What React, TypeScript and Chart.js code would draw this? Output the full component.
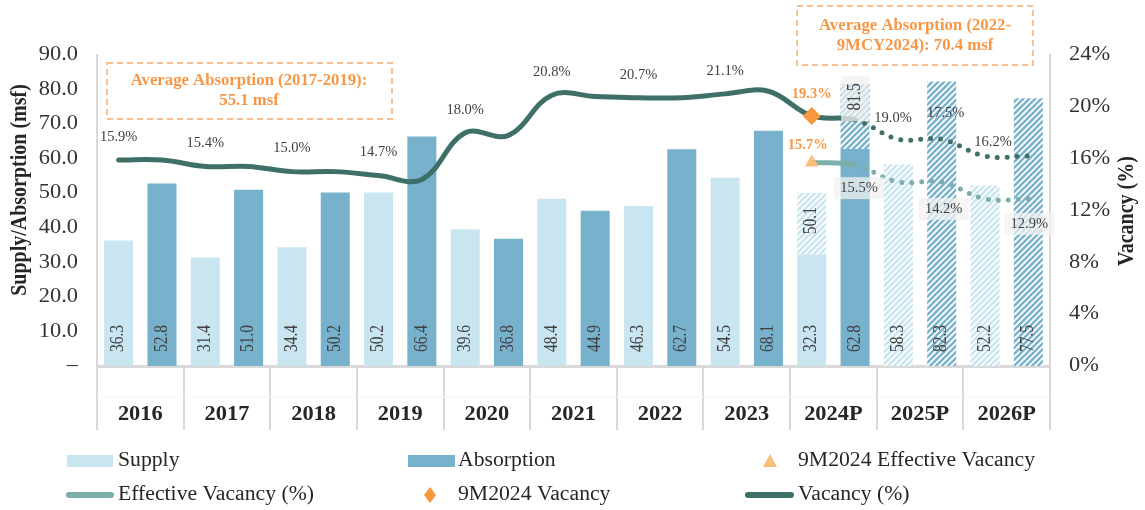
import React, { useEffect, useRef } from 'react';
import { Chart, registerables } from 'chart.js';

Chart.register(...registerables);

// ---------------- DATA ----------------
const categories = ['2016', '2017', '2018', '2019', '2020', '2021', '2022', '2023', '2024P', '2025P', '2026P'];
const supplyActual: (number | null)[] = [36.3, 31.4, 34.4, 50.2, 39.6, 48.4, 46.3, 54.5, 32.3, null, null];
const supplyProjectedTotal: (number | null)[] = [null, null, null, null, null, null, null, null, 50.1, 58.3, 52.2];
const absorptionActual: (number | null)[] = [52.8, 51.0, 50.2, 66.4, 36.8, 44.9, 62.7, 68.1, 62.8, null, null];
const absorptionProjectedTotal: (number | null)[] = [null, null, null, null, null, null, null, null, 81.5, 82.3, 77.5];

// vacancy path: two readings per year (one at each bar position)
const vacancyPath: (number | null)[] = [15.9, 15.9, 15.4, 15.4, 15.0, 15.0, 14.7, 14.4, 18.0, 17.8, 20.9, 20.8, 20.7, 20.7, 21.0, 21.2, 19.3, 19.0, 17.5, 17.5, 16.2, 16.2];
const effectiveVacancyPath: (number | null)[] = [null, null, null, null, null, null, null, null, null, null, null, null, null, null, null, null, 15.7, 15.5, 14.2, 14.2, 12.9, 12.9];
const vacancyLabels = [15.9, 15.4, 15.0, 14.7, 18.0, 20.8, 20.7, 21.1, 19.0, 17.5, 16.2];
const effectiveVacancyLabels = [15.5, 14.2, 12.9];
const vacancy9M = 19.3;
const effectiveVacancy9M = 15.7;
const nineMonthSlot = 16;

const leftTicks = [0, 10, 20, 30, 40, 50, 60, 70, 80, 90];
const rightTicks = [0, 4, 8, 12, 16, 20, 24];

const note1 = ['Average Absorption (2017-2019):', '55.1 msf'];
const note2 = ['Average Absorption (2022-', '9MCY2024): 70.4 msf'];

const legendRow1 = ['Supply', 'Absorption', '9M2024 Effective Vacancy'];
const legendRow2 = ['Effective Vacancy (%)', '9M2024 Vacancy', 'Vacancy (%)'];

// ---------------- STYLE ----------------
const FONT = "'Liberation Serif', 'Times New Roman', serif";
const C_SUPPLY = '#C8E5F0';
const C_ABS = '#78B1CC';
const C_VAC = '#3E7068';
const C_EFF = '#7CAFA9';
const C_ORANGE = '#F79646';
const C_DIAMOND = '#F7983E';
const C_TRI = '#FBBD7B';
const C_AXIS = '#D9D9D9';
const C_TEXT = '#404040';

const vacLabelSlots = [0, 2, 4, 6, 8, 10, 12, 14, 17, 19, 20];
const vacLabelDx = [0, 0, 0, 0, 0, 0, 0, 0, 38, 4, 8];
const vacLabelDy = [-23, -23, -23, -23, -23, -23, -23, -23, -2, -26, -14];
const effLabelSlots = [17, 19, 21];
const effLabelDx = [4, 2, 1];
const effLabelDy = [23, 27, 25];

// each year has two slots: supply (S) and absorption (A)
const slots = categories.flatMap((c) => [c + ' S', c + ' A']);
const toSlots = (arr: (number | null)[], side: number) =>
  slots.map((_, i) => (i % 2 === side ? arr[i >> 1] : null));
const increments = (actual: (number | null)[], total: (number | null)[]) =>
  total.map((t, i) => (t == null ? null : +(t - (actual[i] ?? 0)).toFixed(1)));

function txt(ctx: CanvasRenderingContext2D, s: string, x: number, y: number, o: any) {
  const sx = o.sx ?? 1;
  ctx.save();
  ctx.translate(x, y);
  if (o.rot) {
    ctx.rotate(o.rot);
    ctx.scale(1, sx);
  } else {
    ctx.scale(sx, 1);
  }
  ctx.font = `${o.bold ? 'bold ' : ''}${o.size}px ${FONT}`;
  ctx.fillStyle = o.color || C_TEXT;
  ctx.textAlign = o.align || 'center';
  ctx.textBaseline = o.baseline || 'middle';
  ctx.fillText(s, 0, 0);
  ctx.restore();
}

function makeHatch(color: string) {
  const s = 6;
  const c = document.createElement('canvas');
  c.width = s;
  c.height = s;
  const g = c.getContext('2d')!;
  g.fillStyle = '#ffffff';
  g.fillRect(0, 0, s, s);
  g.strokeStyle = color;
  g.lineWidth = 2.3;
  g.beginPath();
  g.moveTo(0, s);
  g.lineTo(s, 0);
  g.moveTo(-s / 2, s / 2);
  g.lineTo(s / 2, -s / 2);
  g.moveTo(s / 2, s * 1.5);
  g.lineTo(s * 1.5, s / 2);
  g.stroke();
  return g.createPattern(c, 'repeat')!;
}

const customPlugin = {
  id: 'customDraw',
  afterDatasetsDraw(chart: any) {
    const ctx: CanvasRenderingContext2D = chart.ctx;
    const zero = chart.scales.y.getPixelForValue(0);
    // bar labels
    const specs = [
      { ds: 0, values: toSlots(supplyActual, 0), mode: 'center' },
      { ds: 1, values: toSlots(supplyProjectedTotal, 0), mode: 'center' },
      { ds: 2, values: toSlots(absorptionActual, 1), mode: 'end' },
      { ds: 3, values: toSlots(absorptionProjectedTotal, 1), mode: 'end' },
    ];
    specs.forEach((sp) => {
      const meta = chart.getDatasetMeta(sp.ds);
      meta.data.forEach((el: any, i: number) => {
        const v = sp.values[i];
        if (v == null) return;
        const p = el.getProps(['x', 'y', 'base', 'width'], true);
        const label = v.toFixed(1);
        const f = { size: 15.5, sx: 1.15, rot: -Math.PI / 2 };
        if (Math.abs(p.base - zero) < 1) {
          txt(ctx, label, p.x, p.base - 14, { ...f, align: 'left' });
        } else if (sp.mode === 'center') {
          txt(ctx, label, p.x, (p.y + p.base) / 2 - 3, { ...f, align: 'center' });
        } else {
          ctx.save();
          ctx.fillStyle = 'rgba(240,240,240,0.75)';
          ctx.fillRect(p.x - 14, p.y - 8, 28, 45);
          ctx.restore();
          txt(ctx, label, p.x, p.y - 1, { ...f, align: 'right' });
        }
      });
    });
    // vacancy labels
    const vMeta = chart.getDatasetMeta(4);
    vacancyLabels.forEach((v, k) => {
      const el = vMeta.data[vacLabelSlots[k]];
      txt(ctx, v.toFixed(1) + '%', el.x + vacLabelDx[k], el.y + vacLabelDy[k], { size: 14.5 });
    });
    const eMeta = chart.getDatasetMeta(5);
    effectiveVacancyLabels.forEach((v, k) => {
      const el = eMeta.data[effLabelSlots[k]];
      const x = el.x + effLabelDx[k];
      const y = el.y + effLabelDy[k];
      ctx.save();
      ctx.fillStyle = 'rgba(242,242,242,0.75)';
      ctx.fillRect(x - 25, y - 11, 50, 22);
      ctx.restore();
      txt(ctx, v.toFixed(1) + '%', x, y, { size: 14.5 });
    });
    const dEl = chart.getDatasetMeta(6).data[nineMonthSlot];
    txt(ctx, vacancy9M.toFixed(1) + '%', dEl.x, dEl.y - 22, { size: 14.5, bold: true, color: C_ORANGE });
    const tEl = chart.getDatasetMeta(7).data[nineMonthSlot];
    txt(ctx, effectiveVacancy9M.toFixed(1) + '%', tEl.x - 4, tEl.y - 17, { size: 14.5, bold: true, color: C_ORANGE });
  },
  afterDraw(chart: any) {
    const ctx: CanvasRenderingContext2D = chart.ctx;
    const area = chart.chartArea;
    const yS = chart.scales.y;
    const y1S = chart.scales.y1;
    const xS = chart.scales.x;
    // tick labels
    leftTicks.forEach((t) => {
      txt(ctx, t === 0 ? '–' : t.toFixed(1), area.left - 19, yS.getPixelForValue(t), { size: 20, sx: 1.12, align: 'right', color: '#333' });
    });
    rightTicks.forEach((t) => {
      txt(ctx, t + '%', area.right + 19, y1S.getPixelForValue(t), { size: 20, sx: 1.12, align: 'left', color: '#333' });
    });
    // category separators
    const catW = (area.right - area.left) / categories.length;
    ctx.save();
    ctx.strokeStyle = C_AXIS;
    ctx.lineWidth = 2;
    for (let i = 0; i <= categories.length; i++) {
      const x = Math.round(area.left + i * catW);
      ctx.beginPath();
      ctx.moveTo(x, area.bottom);
      ctx.lineTo(x, area.bottom + 64);
      ctx.stroke();
    }
    ctx.strokeStyle = '#F2F2F2';
    ctx.lineWidth = 1;
    ctx.beginPath();
    ctx.moveTo(area.left, area.bottom + 31);
    ctx.lineTo(area.right, area.bottom + 31);
    ctx.stroke();
    ctx.restore();
    categories.forEach((c, i) => {
      txt(ctx, c, xS.getPixelForValue(i), area.bottom + 49, { size: 20, sx: 1.12, bold: true, color: '#262626' });
    });
    // axis titles
    txt(ctx, 'Supply/Absorption (msf)', 20, 190, { size: 20, sx: 1.12, bold: true, rot: -Math.PI / 2, color: '#262626' });
    txt(ctx, 'Vacancy (%)', 1127, 211, { size: 20, sx: 1.12, bold: true, rot: -Math.PI / 2, color: '#262626' });
    // annotation boxes
    ctx.save();
    ctx.strokeStyle = '#FAC08F';
    ctx.lineWidth = 2;
    ctx.setLineDash([6, 4]);
    ctx.strokeRect(107, 63, 285, 56);
    ctx.strokeRect(797, 6, 236, 59);
    ctx.restore();
    const nf = { size: 16, sx: 1.045, bold: true, color: C_ORANGE };
    txt(ctx, note1[0], 249, 81, nf);
    txt(ctx, note1[1], 249, 101, nf);
    txt(ctx, note2[0], 915, 26, nf);
    txt(ctx, note2[1], 915, 46, nf);
    // legend
    const r1 = 461;
    const r2 = 495;
    ctx.save();
    ctx.fillStyle = C_SUPPLY;
    ctx.fillRect(67, r1 - 6, 46, 12);
    ctx.fillStyle = C_ABS;
    ctx.fillRect(408, r1 - 6, 47, 12);
    ctx.fillStyle = C_TRI;
    ctx.beginPath();
    ctx.moveTo(770, r1 - 7);
    ctx.lineTo(777, r1 + 6);
    ctx.lineTo(763, r1 + 6);
    ctx.closePath();
    ctx.fill();
    ctx.lineCap = 'round';
    ctx.lineWidth = 6;
    ctx.strokeStyle = C_EFF;
    ctx.beginPath();
    ctx.moveTo(69, r2);
    ctx.lineTo(111, r2);
    ctx.stroke();
    ctx.strokeStyle = C_VAC;
    ctx.beginPath();
    ctx.moveTo(748, r2);
    ctx.lineTo(791, r2);
    ctx.stroke();
    ctx.fillStyle = C_DIAMOND;
    ctx.beginPath();
    ctx.moveTo(430, r2 - 8);
    ctx.lineTo(436, r2);
    ctx.lineTo(430, r2 + 8);
    ctx.lineTo(424, r2);
    ctx.closePath();
    ctx.fill();
    ctx.restore();
    const lx = [118, 458, 798];
    const lf = { size: 20, sx: 1.085, align: 'left', color: '#262626' };
    legendRow1.forEach((s, i) => txt(ctx, s, lx[i], r1, lf));
    legendRow2.forEach((s, i) => txt(ctx, s, lx[i], r2, lf));
  },
};

export default function App() {
  const ref = useRef<HTMLCanvasElement>(null);
  useEffect(() => {
    if (!ref.current) return;
    const hatchSupply = makeHatch(C_SUPPLY);
    const hatchAbs = makeHatch(C_ABS);
    const dotted = (from: number) => ({
      borderDash: (c: any) => (c.p0DataIndex >= from ? [0, 10] : undefined),
    });
    const barBase = { type: 'bar', xAxisID: 'x2', yAxisID: 'y', grouped: false, order: 2, barPercentage: 0.67, categoryPercentage: 1 };
    const chart = new Chart(ref.current, {
      type: 'bar',
      data: {
        labels: categories,
        datasets: [
          { ...barBase, label: 'Supply', data: toSlots(supplyActual, 0), backgroundColor: C_SUPPLY, stack: 'S' },
          { ...barBase, label: 'Supply (P)', data: toSlots(increments(supplyActual, supplyProjectedTotal), 0), backgroundColor: hatchSupply, stack: 'S' },
          { ...barBase, label: 'Absorption', data: toSlots(absorptionActual, 1), backgroundColor: C_ABS, stack: 'A' },
          { ...barBase, label: 'Absorption (P)', data: toSlots(increments(absorptionActual, absorptionProjectedTotal), 1), backgroundColor: hatchAbs, stack: 'A' },
          {
            type: 'line', label: 'Vacancy (%)', data: vacancyPath, xAxisID: 'x2', yAxisID: 'y1', borderColor: C_VAC, borderWidth: 5,
            tension: 0.38, pointRadius: 0, borderCapStyle: 'round', order: 1, segment: dotted(17),
          },
          {
            type: 'line', label: 'Effective Vacancy (%)', data: effectiveVacancyPath, xAxisID: 'x2', yAxisID: 'y1', borderColor: C_EFF, borderWidth: 5,
            tension: 0.38, pointRadius: 0, borderCapStyle: 'round', order: 1, segment: dotted(17),
          },
          {
            type: 'line', label: '9M2024 Vacancy', data: slots.map((_, i) => (i === nineMonthSlot ? vacancy9M : null)), xAxisID: 'x2', yAxisID: 'y1',
            showLine: false, pointStyle: 'rectRot', pointRadius: 9, backgroundColor: C_DIAMOND, borderWidth: 0, order: 0,
          },
          {
            type: 'line', label: '9M2024 Effective Vacancy', data: slots.map((_, i) => (i === nineMonthSlot ? effectiveVacancy9M : null)), xAxisID: 'x2', yAxisID: 'y1',
            showLine: false, pointStyle: 'triangle', pointRadius: 8, backgroundColor: C_TRI, borderWidth: 0, order: 0,
          },
        ] as any,
      },
      options: {
        animation: false,
        responsive: false,
        devicePixelRatio: 1,
        layout: { padding: { top: 55, left: 0, right: 0, bottom: 0 } },
        plugins: { legend: { display: false }, tooltip: { enabled: false } },
        scales: {
          x: {
            type: 'category', offset: true,
            grid: { display: false }, ticks: { display: false },
            border: { display: true, color: C_AXIS, width: 3 },
            afterFit: (s: any) => { s.height = 144; },
          },
          x2: { type: 'category', labels: slots, offset: true, display: false },
          y: {
            position: 'left', min: 0, max: 90, stacked: true,
            ticks: { display: false, stepSize: 10 }, grid: { display: false },
            border: { display: true, color: C_AXIS, width: 2 },
            afterFit: (s: any) => { s.width = 97; },
          },
          y1: {
            position: 'right', min: 0, max: 24,
            ticks: { display: false, stepSize: 4 }, grid: { display: false },
            border: { display: true, color: C_AXIS, width: 2 },
            afterFit: (s: any) => { s.width = 95; },
          },
        } as any,
      },
      plugins: [customPlugin],
    } as any);
    return () => chart.destroy();
  }, []);
  return (
    <div style={{ position: 'absolute', left: 0, top: 0, width: 1145, height: 510, background: '#fff' }}>
      <canvas ref={ref} width={1145} height={510} style={{ display: 'block' }} />
    </div>
  );
}
